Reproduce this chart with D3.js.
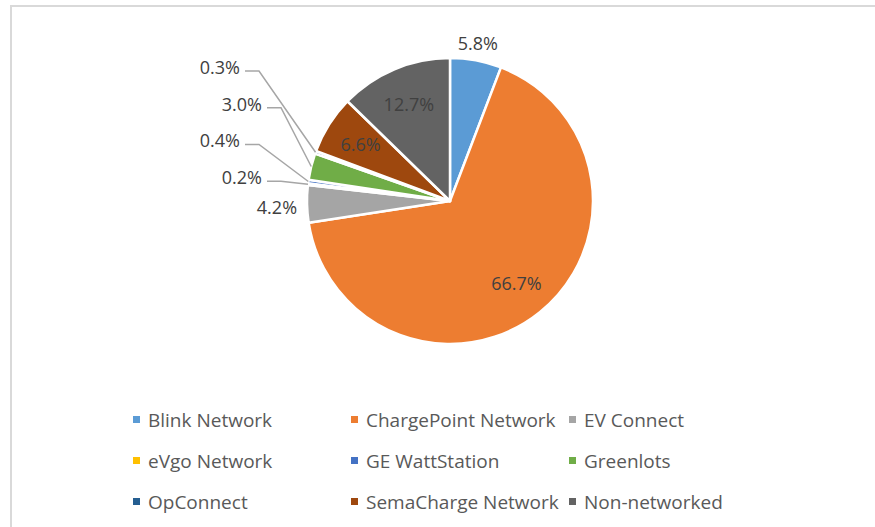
<!DOCTYPE html>
<html>
<head>
<meta charset="utf-8">
<script src="https://cdn.jsdelivr.net/npm/d3@7"></script>
<style>
  body { margin: 0; background: #fff; }
  svg { display: block; font-family: 'Open Sans', sans-serif; }
</style>
</head>
<body>
<div id="chart"></div>
<script>
const categories = ['Blink Network', 'ChargePoint Network', 'EV Connect', 'eVgo Network', 'GE WattStation',
  'Greenlots', 'OpConnect', 'SemaCharge Network', 'Non-networked'];
const shares = [5.8, 66.7, 4.2, 0.2, 0.4, 3.0, 0.3, 6.6, 12.7];
const colors = ['#5B9BD5', '#ED7D31', '#A5A5A5', '#FFC000', '#4472C4', '#70AD47', '#255E91', '#9E480E', '#636363'];

const width = 875;
const height = 527;
const cx = 450, cy = 201, r = 143;

const svg = d3.select('#chart').append('svg')
  .attr('width', width)
  .attr('height', height);

// chart frame, cut off at the right and bottom
svg.append('rect')
  .attr('x', 11).attr('y', 6)
  .attr('width', 900).attr('height', 560)
  .attr('fill', '#fff')
  .attr('stroke', '#d9d9d9')
  .attr('stroke-width', 2);

const pie = d3.pie().sort(null).value(d => d);
const arcs = pie(shares);
const arc = d3.arc().innerRadius(0).outerRadius(r);

const g = svg.append('g');

g.append('g')
  .attr('transform', 'translate(' + cx + ',' + cy + ')')
  .selectAll('path')
  .data(arcs)
  .enter().append('path')
  .attr('d', arc)
  .attr('fill', (d, i) => colors[i])
  .attr('stroke', '#fff')
  .attr('stroke-width', 2.5)
  .attr('stroke-linejoin', 'round');

function polar(rad, ang) {
  return [cx + rad * Math.sin(ang), cy - rad * Math.cos(ang)];
}
const mid = d => (d.startAngle + d.endAngle) / 2;
const fmt = v => v.toFixed(1) + '%';

const labels = g.append('g')
  .attr('font-size', 18)
  .attr('fill', '#404040');

// big slices: label inside
arcs.filter(d => d.value >= 6).forEach(d => {
  const p = polar(r * 0.74, mid(d));
  labels.append('text')
    .attr('x', p[0]).attr('y', p[1])
    .attr('text-anchor', 'middle')
    .attr('dominant-baseline', 'central')
    .text(fmt(d.value));
});

// medium slices: label just outside the rim
arcs.filter(d => d.value >= 4 && d.value < 6).forEach(d => {
  const a = mid(d);
  const p = polar(r + 10, a);
  const s = Math.sin(a), c = Math.cos(a);
  const t = labels.append('text')
    .attr('x', p[0])
    .attr('text-anchor', s > 0.3 ? 'start' : (s < -0.3 ? 'end' : 'middle'))
    .text(fmt(d.value));
  if (c > 0.3) t.attr('y', p[1] - 1);
  else if (c < -0.3) t.attr('y', p[1]).attr('dominant-baseline', 'hanging');
  else t.attr('y', p[1] + 3).attr('dominant-baseline', 'central');
});

// tiny slices: stacked labels on the left with leader lines
const small = arcs.filter(d => d.value < 4);
const firstAnchor = polar(r, mid(small[0]));
small.forEach((d, i) => {
  const anchor = polar(r, mid(d));
  const lineY = firstAnchor[1] - 3 - 36.7 * i;
  const textEnd = cx - r - 45 - (i % 2) * 22;
  const start = textEnd + 5;
  const elbow = start + 14;

  labels.append('path')
    .attr('d', d3.line()([[start, lineY], [elbow, lineY], anchor]))
    .attr('fill', 'none')
    .attr('stroke', '#a6a6a6')
    .attr('stroke-width', 1.5);

  labels.append('text')
    .attr('x', textEnd).attr('y', lineY - 4)
    .attr('text-anchor', 'end')
    .attr('dominant-baseline', 'central')
    .text(fmt(d.value));
});

// legend, 3 columns
const colX = [133, 351, 569];
const rowY = [419.5, 460.5, 501.5];

const legend = svg.append('g')
  .selectAll('g')
  .data(categories)
  .enter().append('g')
  .attr('transform', (d, i) => 'translate(' + colX[i % 3] + ',' + rowY[Math.floor(i / 3)] + ')');

legend.append('rect')
  .attr('x', 0).attr('y', -3.5)
  .attr('width', 7).attr('height', 7)
  .attr('fill', (d, i) => colors[i]);

legend.append('text')
  .attr('x', 15)
  .attr('dominant-baseline', 'central')
  .attr('font-size', 19)
  .attr('fill', '#595959')
  .text(d => d);
</script>
</body>
</html>
